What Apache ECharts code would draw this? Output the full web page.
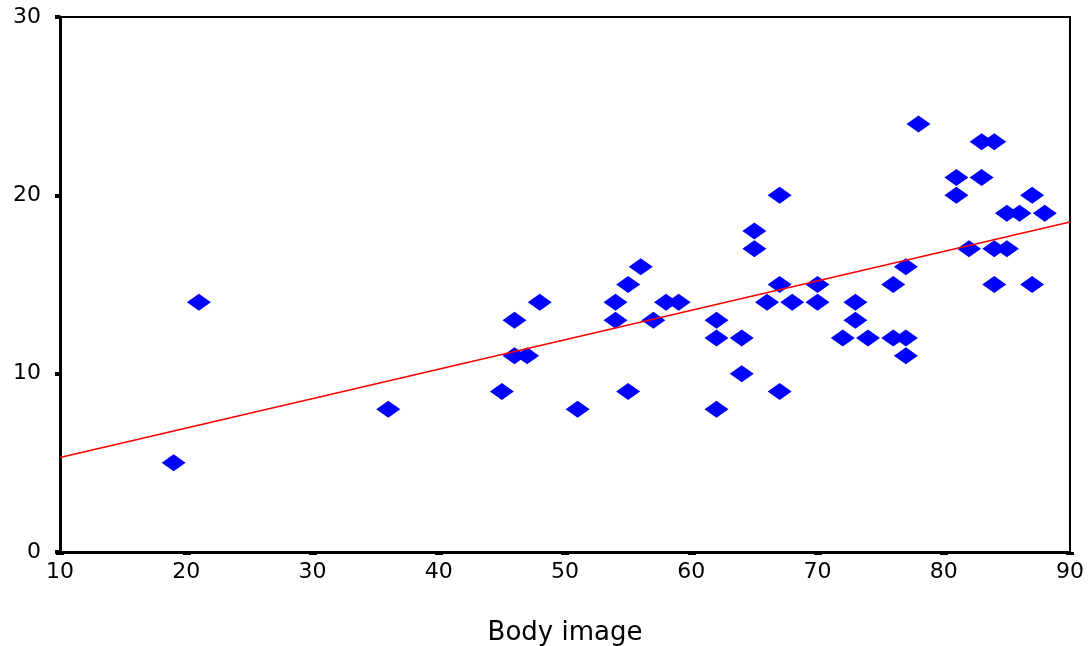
<!DOCTYPE html>
<html>
<head>
<meta charset="utf-8">
<script src="https://cdn.jsdelivr.net/npm/echarts@6/dist/echarts.min.js"></script>
<style>html,body{margin:0;padding:0;background:#fff;}#c{width:1090px;height:646px;}</style>
</head>
<body>
<div id="c"></div>
<script>
// Body image (x) vs score (y)
const bodyImage = [19,21,36,45,46,46,47,48,51,54,54,55,55,56,57,58,59,62,62,62,64,64,65,65,66,67,67,67,68,70,70,72,73,73,74,76,76,77,77,77,78,81,81,82,83,83,84,84,84,85,85,86,87,87,88];
const scores    = [5,14,8,9,13,11,11,14,8,14,13,15,9,16,13,14,14,13,12,8,12,10,18,17,14,20,15,9,14,15,14,12,14,13,12,15,12,16,12,11,24,21,20,17,23,21,23,17,15,19,17,19,20,15,19];
const fitX = [10, 90];
const fitY = [5.3, 18.5];
const xTicks = [10,20,30,40,50,60,70,80,90];
const yTicks = [0,10,20,30];
const xTitle = 'Body image';

const chart = echarts.init(document.getElementById('c'));
const pts = bodyImage.map((x,i)=>[x, scores[i]]);
const fit = fitX.map((x,i)=>[x, fitY[i]]);
const font = 'DejaVu Sans';
chart.setOption({
  animation:false,
  backgroundColor:'#fff',
  grid:{left:60,right:20,top:17,bottom:94,show:true,borderColor:'#000',borderWidth:2,backgroundColor:'transparent',
    containLabel:false,outerBoundsMode:'none'},
  xAxis:{type:'value',min:xTicks[0],max:xTicks[xTicks.length-1],interval:10,
    name:xTitle,nameLocation:'middle',nameGap:68,
    nameTextStyle:{fontFamily:font,fontSize:26,color:'#000'},
    axisLine:{show:true,lineStyle:{color:'#000',width:3}},
    axisTick:{show:true,length:3,lineStyle:{color:'#000',width:8}},
    axisLabel:{fontFamily:font,fontSize:22,color:'#000',margin:9},
    splitLine:{show:false}},
  yAxis:{type:'value',min:yTicks[0],max:yTicks[yTicks.length-1],interval:10,
    axisLine:{show:true,lineStyle:{color:'#000',width:3}},
    axisTick:{show:true,length:5,lineStyle:{color:'#000',width:4}},
    axisLabel:{fontFamily:font,fontSize:22,color:'#000',margin:19,verticalAlign:'middle'},
    splitLine:{show:false}},
  series:[
    {type:'line',data:fit,symbol:'none',lineStyle:{color:'#ff0000',width:1.6},z:3},
    {type:'scatter',data:pts,symbol:'diamond',symbolSize:[24,17],itemStyle:{color:'#0000ff',opacity:1},z:2}
  ]
});
</script>
</body>
</html>
